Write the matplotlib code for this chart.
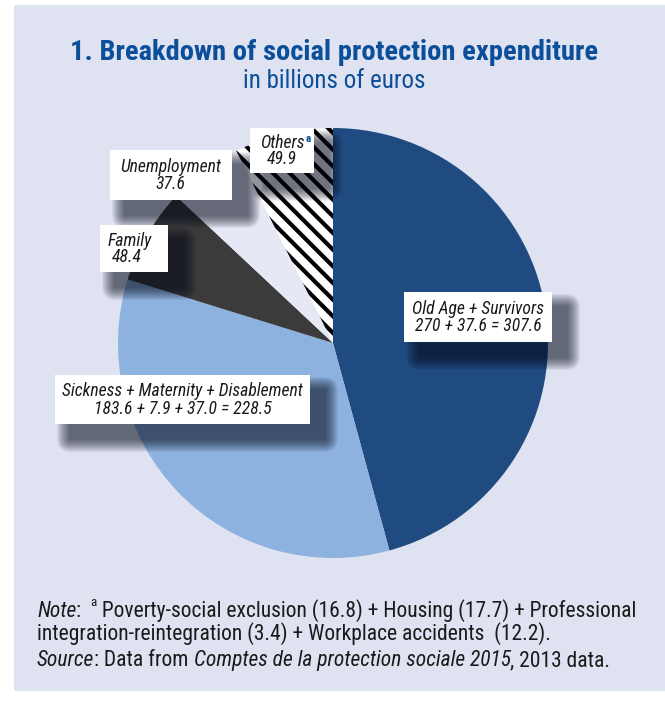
import matplotlib
matplotlib.use("Agg")
import matplotlib.pyplot as plt
from matplotlib.patches import Rectangle, FancyBboxPatch

# data (billions of euros)
categories = ["Old Age + Survivors", "Sickness + Maternity + Disablement",
              "Family", "Unemployment", "Others"]
values = [307.6, 228.5, 48.4, 37.6, 49.9]
label_top = ["Old Age + Survivors", "Sickness + Maternity + Disablement",
             "Family", "Unemployment", "Others"]
label_bottom = ["270 + 37.6 = 307.6", "183.6 + 7.9 + 37.0 = 228.5",
                "48.4", "37.6", "49.9"]
colors = ["#1f4b80", "#8db2df", "#3b3b3b", "#e6e9f5", "white"]

W, H = 665, 702
BG = "#dfe2f1"
BLUE = "#0b4f9a"
INK = "#1a1a1a"
FONT = "Roboto Condensed"

plt.rcParams["font.family"] = [FONT, "DejaVu Sans"]
plt.rcParams["hatch.linewidth"] = 3.0

fig = plt.figure(figsize=(W / 100, H / 100), dpi=100)
fig.patch.set_facecolor("white")

# background panel
bg = fig.add_axes([0, 0, 1, 1], zorder=0)
bg.set_xlim(0, W); bg.set_ylim(H, 0); bg.axis("off")
bg.add_patch(Rectangle((14, 5), W - 14, 686, color=BG, lw=0))

# pie
cx, cy, r = 333, 343, 215
ax = fig.add_axes([(cx - r) / W, (H - cy - r) / H, 2 * r / W, 2 * r / H], zorder=1)
wedges, _ = ax.pie(values, colors=colors, startangle=90, counterclock=False,
                   wedgeprops=dict(linewidth=0))
wedges[-1].set_hatch("\\\\")
wedges[-1].set_edgecolor("black")
wedges[-1].set_linewidth(0)
ax.set_xlim(-1, 1); ax.set_ylim(-1, 1); ax.set_aspect("equal"); ax.axis("off")

# overlay for labels
ov = fig.add_axes([0, 0, 1, 1], zorder=2)
ov.set_xlim(0, W); ov.set_ylim(H, 0); ov.axis("off"); ov.patch.set_alpha(0)

# box extents (x0, y0, x1, y1) in pixels and text anchor
boxes = [
    ((404, 292, 552, 342), "center"),
    ((55, 375, 310, 424), "center"),
    ((100, 225, 168, 272), "left"),
    ((110, 150, 232, 200), "center"),
    ((250, 128, 314, 173), "center"),
]
for (x0, y0, x1, y1), ha in boxes:
    # soft drop shadow
    n = 14
    for k in range(n):
        g = 26 - k * 26 / n
        ov.add_patch(FancyBboxPatch((x0 + 15 - g / 2, y0 + 15 - g / 2),
                                    x1 - x0 + g, y1 - y0 + g,
                                    boxstyle=f"round,pad=0,rounding_size={g / 2 + 1}",
                                    color="#050a1a", alpha=0.055, lw=0, zorder=3))
    ov.add_patch(Rectangle((x0, y0), x1 - x0, y1 - y0, color="white", lw=0, zorder=4))

for (box, ha), top, bot in zip(boxes, label_top, label_bottom):
    x0, y0, x1, y1 = box
    tx = (x0 + x1) / 2 if ha == "center" else x0 + 8
    ym = (y0 + y1) / 2
    t1 = ov.text(tx, ym - 8, top, ha=ha, va="center", style="italic",
                 fontsize=12.7, color=INK, zorder=5)
    ov.text(tx + (4 if ha == "left" else 0), ym + 9, bot, ha=ha, va="center",
            style="italic", fontsize=12.7, color=INK, zorder=5)
    if top == "Others":
        ov.annotate("a", xy=(1, 1), xycoords=t1, xytext=(1, 0), textcoords="offset points",
                    ha="left", va="top", fontsize=8, fontweight="bold", color=BLUE, zorder=5)

# title
fig.text(0.503, 1 - 53 / H, "1. Breakdown of social protection expenditure",
         ha="center", va="center", fontsize=20.5, fontweight="bold", color=BLUE)
fig.text(0.503, 1 - 81 / H, "in billions of euros",
         ha="center", va="center", fontsize=18, color=BLUE)


def chain(x, y, parts, size=15.5):
    # pieces of one line set one after the other; y is the text bottom in pixels
    main = None
    prev = None
    for s, it, sup in parts:
        kw = dict(color=INK, style="italic" if it else "normal", zorder=5)
        if prev is None:
            prev = main = ov.text(x, y, s, ha="left", va="bottom", fontsize=size, **kw)
        elif sup:
            prev = ov.annotate(s, xy=(1, 0.62), xycoords=(prev, main), xytext=(3, 0),
                               textcoords="offset points", ha="left", va="bottom",
                               fontsize=size * 0.6, **kw)
        else:
            prev = main = ov.annotate(s, xy=(1, 0), xycoords=(prev, main), ha="left",
                                      va="bottom", fontsize=size, **kw)
    return prev


# notes
chain(37, 622, [("Note", True, False), (": ", False, False), ("a", False, True),
                (" Poverty-social exclusion (16.8) + Housing (17.7) + Professional", False, False)])
chain(37, 645, [("integration-reintegration (3.4) + Workplace accidents  (12.2).", False, False)])
chain(37, 671, [("Source", True, False), (": Data from ", False, False),
                ("Comptes de la protection sociale 2015", True, False),
                (", 2013 data.", False, False)])

fig.savefig("out.png", dpi=100, facecolor="white")
